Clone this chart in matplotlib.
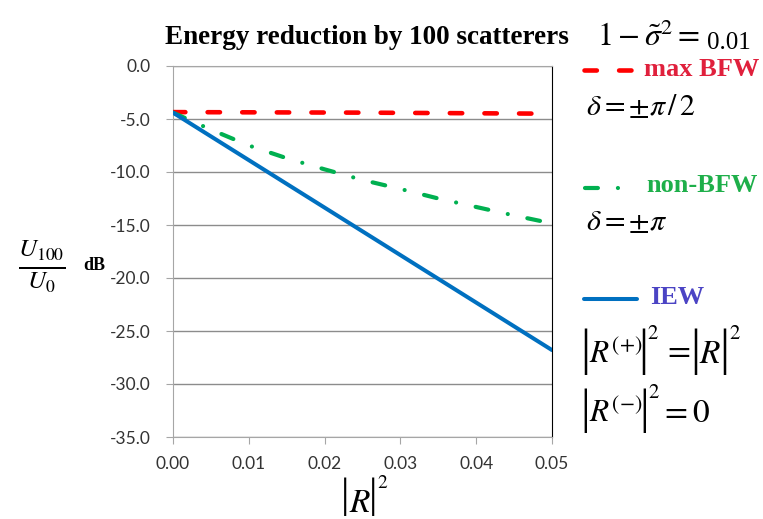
import numpy as np
import matplotlib
matplotlib.use("Agg")
import matplotlib.pyplot as plt
from matplotlib.lines import Line2D

plt.rcParams['mathtext.fontset'] = 'stix'

# data
r2 = [0.0, 0.005, 0.01, 0.015, 0.02, 0.025, 0.03, 0.035, 0.04, 0.045, 0.05]
max_bfw = [-4.35, -4.36, -4.37, -4.38, -4.39, -4.40, -4.42, -4.44, -4.46, -4.48, -4.50]
non_bfw = [-4.4, -6.0, -7.5, -8.7, -9.75, -10.75, -11.6, -12.5, -13.3, -14.1, -14.85]
iew = [-4.4, -6.64, -8.88, -11.12, -13.36, -15.6, -17.84, -20.08, -22.32, -24.56, -26.8]

xticks = [0.0, 0.01, 0.02, 0.03, 0.04, 0.05]
yticks = [0, -5, -10, -15, -20, -25, -30, -35]

RED = '#FF0000'
GREEN = '#00B050'
BLUE = '#0070C0'

W, H = 763, 519
fig = plt.figure(figsize=(W / 100, H / 100), dpi=100)
ax = fig.add_axes([173 / W, 1 - 437 / H, (552 - 173) / W, (437 - 66) / H])


def fx(px):
    return px / W


def fy(py):
    return 1 - py / H


def txt(x, y, s, **kw):
    kw.setdefault('ha', 'left')
    kw.setdefault('va', 'baseline')
    return fig.text(fx(x), fy(y), s, **kw)


def bar(x, y, size):
    # tall absolute-value bar of the equation-editor formulas
    txt(x, y, '|', ha='center', va='center', family='Liberation Serif', fontsize=size)


red_kw = dict(color=RED, lw=3.3, dashes=(2.7, 4.85), dash_capstyle='round')
green_kw = dict(color=GREEN, lw=3.0, dashes=(3.1, 4.8, 0.01, 4.8), dash_capstyle='round')
blue_kw = dict(color=BLUE, lw=2.9, solid_capstyle='round')

ax.plot(r2, max_bfw, zorder=4, **red_kw)
ax.plot(r2, non_bfw, zorder=4, **green_kw)
ax.plot(r2, iew, zorder=4, **blue_kw)

ax.set_xlim(0, 0.05)
ax.set_ylim(-35, 0)
ax.set_xticks(xticks)
ax.set_xticklabels([f"{v:.2f}" for v in xticks])
ax.set_yticks(yticks)
ax.set_yticklabels([f"{v:.1f}" for v in yticks])
ax.yaxis.grid(True, color='#8c8c8c', lw=1)
ax.set_axisbelow(True)
for s in ['left', 'bottom', 'top']:
    ax.spines[s].set_color('#a6a6a6')
ax.spines['right'].set_color('black')
ax.spines['right'].set_linewidth(0.8)
ax.tick_params(direction='out', length=5, color='#a6a6a6', labelsize=12.5,
               labelcolor='#333333')
ax.tick_params(axis='x', pad=9)
ax.tick_params(axis='y', pad=11)
for lab in ax.get_xticklabels() + ax.get_yticklabels():
    lab.set_family('Lato')

# title and axis labels
txt(367, 38, "Energy reduction by 100 scatterers", ha='center', va='center',
    family='Liberation Serif', weight='bold', fontsize=19.5)
txt(42, 266, r'$\frac{U_{100}}{U_0}$', ha='center', va='center', fontsize=26)
txt(94, 266, 'dB', ha='center', va='center', family='Liberation Serif',
    weight='bold', fontsize=13)
bar(345, 497, 30)
txt(349, 512, r'$R$', fontsize=24)
bar(373, 497, 30)
txt(377, 488, '2', family='STIXGeneral', fontsize=14)

# right-hand notes and legend keys
txt(597, 46, r'$1-\tilde{\sigma}^{2}=$', fontsize=23)
txt(707, 49, '0.01', family='Liberation Serif', fontsize=18)

fig.add_artist(Line2D([fx(584), fx(635)], [fy(70), fy(70)], **red_kw))
txt(644, 70, 'max BFW', va='center', color='#E0203C',
    family='Liberation Serif', weight='bold', fontsize=19)
txt(586, 115, r'$\delta=\pm\pi\,/\,2$', fontsize=21.5)

fig.add_artist(Line2D([fx(585), fx(620)], [fy(188), fy(188)], **green_kw))
txt(646, 186, 'non-BFW', va='center', color='#1EAF4A',
    family='Liberation Serif', weight='bold', fontsize=19)
txt(586, 230, r'$\delta=\pm\pi$', fontsize=21.5)

fig.add_artist(Line2D([fx(584), fx(637)], [fy(299), fy(299)], **blue_kw))
txt(650, 298, 'IEW', va='center', color='#4B44C4',
    family='Liberation Serif', weight='bold', fontsize=19)

# |R(+)|^2 = |R|^2
bar(585, 352, 36)
txt(589, 363, r'$R^{(+)}$', fontsize=22.5)
bar(643, 352, 36)
txt(647, 339, '2', family='STIXGeneral', fontsize=15)
txt(663, 359, r'$=$', fontsize=24)
bar(695, 352, 36)
txt(699, 363, r'$R$', fontsize=24)
bar(724, 352, 36)
txt(729, 339, '2', family='STIXGeneral', fontsize=15)

# |R(-)|^2 = 0
bar(585, 411, 35)
txt(589, 422, r'$R^{(-)}$', fontsize=22.5)
bar(644, 411, 35)
txt(648, 398, '2', family='STIXGeneral', fontsize=15)
txt(660, 422, r'$=0$', fontsize=24)

fig.savefig('out.png', dpi=100)
